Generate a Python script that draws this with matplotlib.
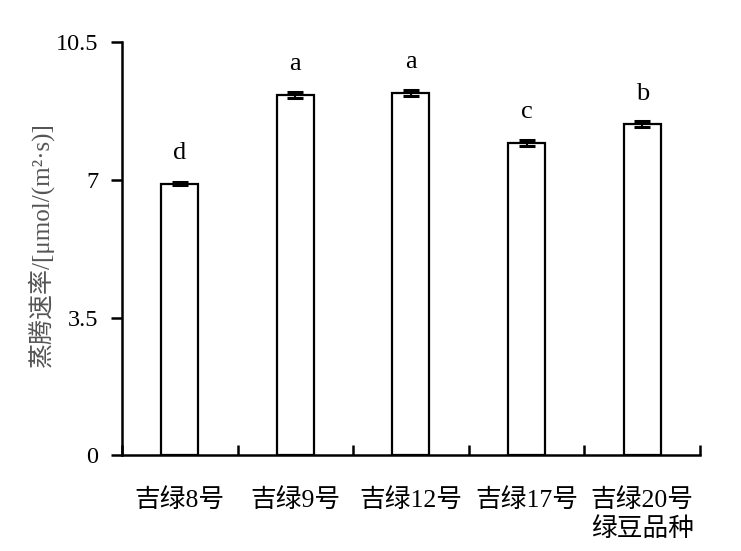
import matplotlib
matplotlib.use('Agg')
import matplotlib.pyplot as plt
import numpy as np

plt.rcParams['font.family'] = ['Liberation Serif', 'Noto Sans CJK SC']

varieties = ['吉绿8号', '吉绿9号', '吉绿12号', '吉绿17号', '吉绿20号']
rate = [6.90, 9.17, 9.22, 7.95, 8.42]
err = [0.04, 0.08, 0.08, 0.08, 0.07]
letters = ['d', 'a', 'a', 'c', 'b']
yticks = [0, 3.5, 7, 10.5]

fig = plt.figure(figsize=(7.41, 5.51), dpi=100)
ax = fig.add_axes([0.1646, 0.1742, 0.7801, 0.7487])

x = np.arange(len(varieties))
ax.bar(x, rate, width=0.32, color='white', edgecolor='black', linewidth=1.6, zorder=2)
ax.errorbar(x, rate, yerr=err, fmt='none', ecolor='black', elinewidth=1.5,
            capsize=6, capthick=2.2, zorder=3)

for xi, v, l in zip(x, rate, letters):
    ax.text(xi, v + 0.78, l, ha='center', va='center', fontsize=19)

ax.set_xlim(-0.5, len(varieties) - 0.5)
ax.set_ylim(0, 10.5)
ax.set_yticks(yticks)
ax.set_yticklabels(['0', '3.5', '7', '10.5'])
ax.tick_params(axis='y', direction='out', length=8, width=1.8, pad=9, labelsize=17.5)

ax.set_xticks(x)
ax.set_xticklabels(varieties)
ax.tick_params(axis='x', which='major', length=0, pad=24, labelsize=18.5)
ax.set_xticks(np.arange(-0.5, len(varieties)), minor=True)
ax.tick_params(axis='x', which='minor', direction='in', length=7, width=1.8)

for s in ['top', 'right']:
    ax.spines[s].set_visible(False)
for s in ['left', 'bottom']:
    ax.spines[s].set_linewidth(1.8)

ax.set_ylabel('蒸腾速率/[μmol/(m²·s)]', fontsize=18, color='#555555', labelpad=4)
ax.yaxis.set_label_coords(-0.118, 0.51)
ax.text(4, -0.18, '绿豆品种', transform=ax.get_xaxis_transform(), ha='center',
        va='center', fontsize=18.5)

fig.savefig('out.png', dpi=100)
